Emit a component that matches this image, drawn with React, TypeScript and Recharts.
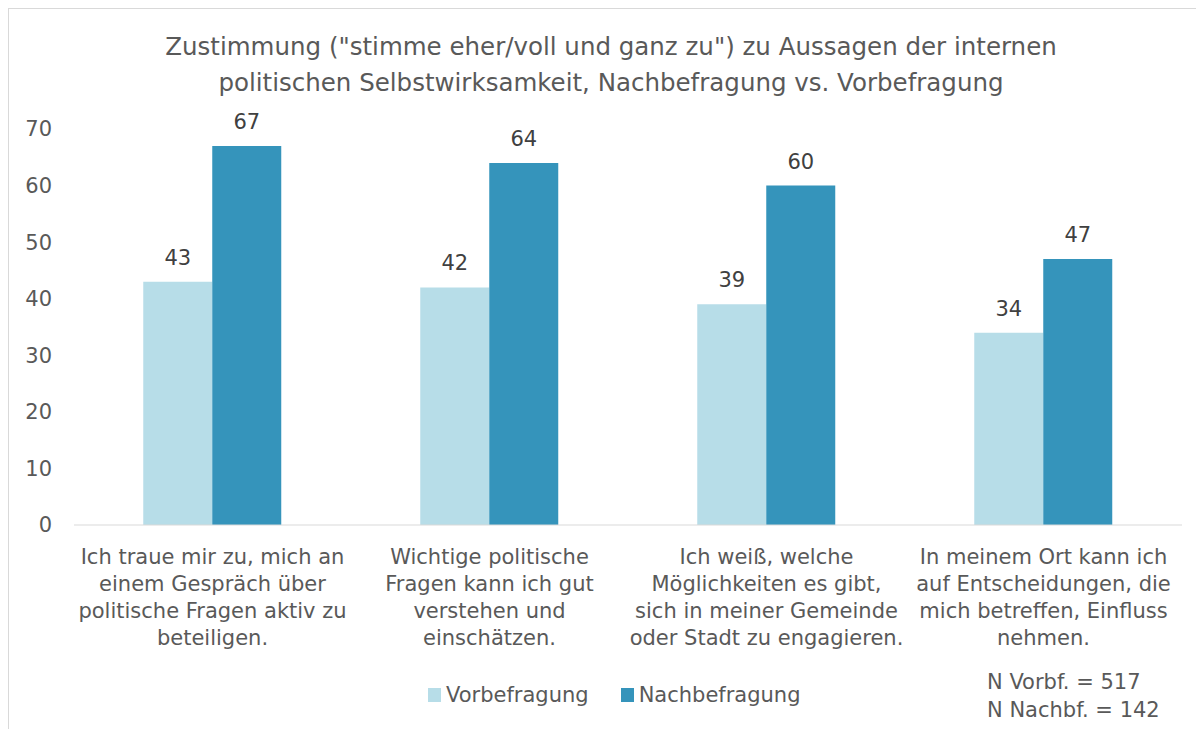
import React from "react";
import { BarChart, Bar, XAxis, YAxis, Legend, LabelList } from "recharts";

const categories = [
  "Ich traue mir zu, mich an\neinem Gespräch über\npolitische Fragen aktiv zu\nbeteiligen.",
  "Wichtige politische\nFragen kann ich gut\nverstehen und\neinschätzen.",
  "Ich weiß, welche\nMöglichkeiten es gibt,\nsich in meiner Gemeinde\noder Stadt zu engagieren.",
  "In meinem Ort kann ich\nauf Entscheidungen, die\nmich betreffen, Einfluss\nnehmen.",
];
const vorbefragung = [43, 42, 39, 34];
const nachbefragung = [67, 64, 60, 47];
const yTicks = [0, 10, 20, 30, 40, 50, 60, 70];
const seriesNames = ["Vorbefragung", "Nachbefragung"];
const titleLines = [
  'Zustimmung ("stimme eher/voll und ganz zu") zu Aussagen der internen',
  "politischen Selbstwirksamkeit, Nachbefragung vs. Vorbefragung",
];
const noteLines = ["N Vorbf. = 517", "N Nachbf. = 142"];

const FONT = "'DejaVu Sans', Verdana, sans-serif";
const TEXT = "#595959";
const LIGHT = "#B7DDE8";
const DARK = "#3594BB";

const data = categories.map((name, i) => ({
  name,
  vor: vorbefragung[i],
  nach: nachbefragung[i],
}));

function CategoryTick(props: any) {
  const { x, y, payload } = props;
  const lines = String(payload.value).split("\n");
  return (
    <text x={x} y={y} textAnchor="middle" fill={TEXT} fontSize={21} fontFamily={FONT}>
      {lines.map((l, i) => (
        <tspan key={i} x={x} dy={i === 0 ? 31 : 27}>
          {l}
        </tspan>
      ))}
    </text>
  );
}

function LegendContent(props: any) {
  const items = [...(props.payload || [])].sort(
    (a: any, b: any) => seriesNames.indexOf(a.value) - seriesNames.indexOf(b.value)
  );
  return (
    <div style={{ display: "flex", alignItems: "center", fontFamily: FONT, fontSize: 21, color: TEXT }}>
      {items.map((it: any, i: number) => (
        <div key={i} style={{ display: "flex", alignItems: "center", marginRight: 32 }}>
          <span style={{ width: 13, height: 14, background: it.color, marginRight: 5, display: "inline-block" }} />
          <span>{it.value}</span>
        </div>
      ))}
    </div>
  );
}

export default function App() {
  return (
    <div
      style={{
        position: "relative",
        width: 1195,
        height: 720,
        borderLeft: "1px solid #d9d9d9",
        borderTop: "1px solid #d9d9d9",
        fontFamily: FONT,
      }}
    >
      <div
        style={{
          position: "absolute",
          left: 0,
          top: 20,
          width: 1204,
          textAlign: "center",
          fontSize: 24.5,
          lineHeight: "36px",
          color: TEXT,
        }}
      >
        {titleLines.map((t, i) => (
          <div key={i}>{t}</div>
        ))}
      </div>
      <BarChart
        width={1195}
        height={720}
        data={data}
        margin={{ top: 120, right: 22, left: 9, bottom: 74 }}
        barCategoryGap="25%"
        barGap={0}
      >
        <XAxis
          dataKey="name"
          axisLine={{ stroke: "#d9d9d9" }}
          tickLine={false}
          height={130}
          interval={0}
          tick={<CategoryTick />}
        />
        <YAxis
          domain={[0, 70]}
          ticks={yTicks}
          width={56}
          axisLine={false}
          tickLine={false}
          tickMargin={16}
          tick={{ fill: TEXT, fontSize: 21, fontFamily: FONT }}
        />
        <Legend
          verticalAlign="middle"
          layout="horizontal"
          wrapperStyle={{ left: 419, top: 674, width: "auto" }}
          content={<LegendContent />}
        />
        <Bar dataKey="vor" name={seriesNames[0]} fill={LIGHT} isAnimationActive={false}>
          <LabelList dataKey="vor" position="top" offset={17} fill="#404040" fontSize={21} fontFamily={FONT} />
        </Bar>
        <Bar dataKey="nach" name={seriesNames[1]} fill={DARK} isAnimationActive={false}>
          <LabelList dataKey="nach" position="top" offset={17} fill="#404040" fontSize={21} fontFamily={FONT} />
        </Bar>
      </BarChart>
      <div
        style={{
          position: "absolute",
          left: 978,
          top: 659,
          fontSize: 21,
          lineHeight: "28px",
          color: TEXT,
        }}
      >
        {noteLines.map((t, i) => (
          <div key={i}>{t}</div>
        ))}
      </div>
    </div>
  );
}
